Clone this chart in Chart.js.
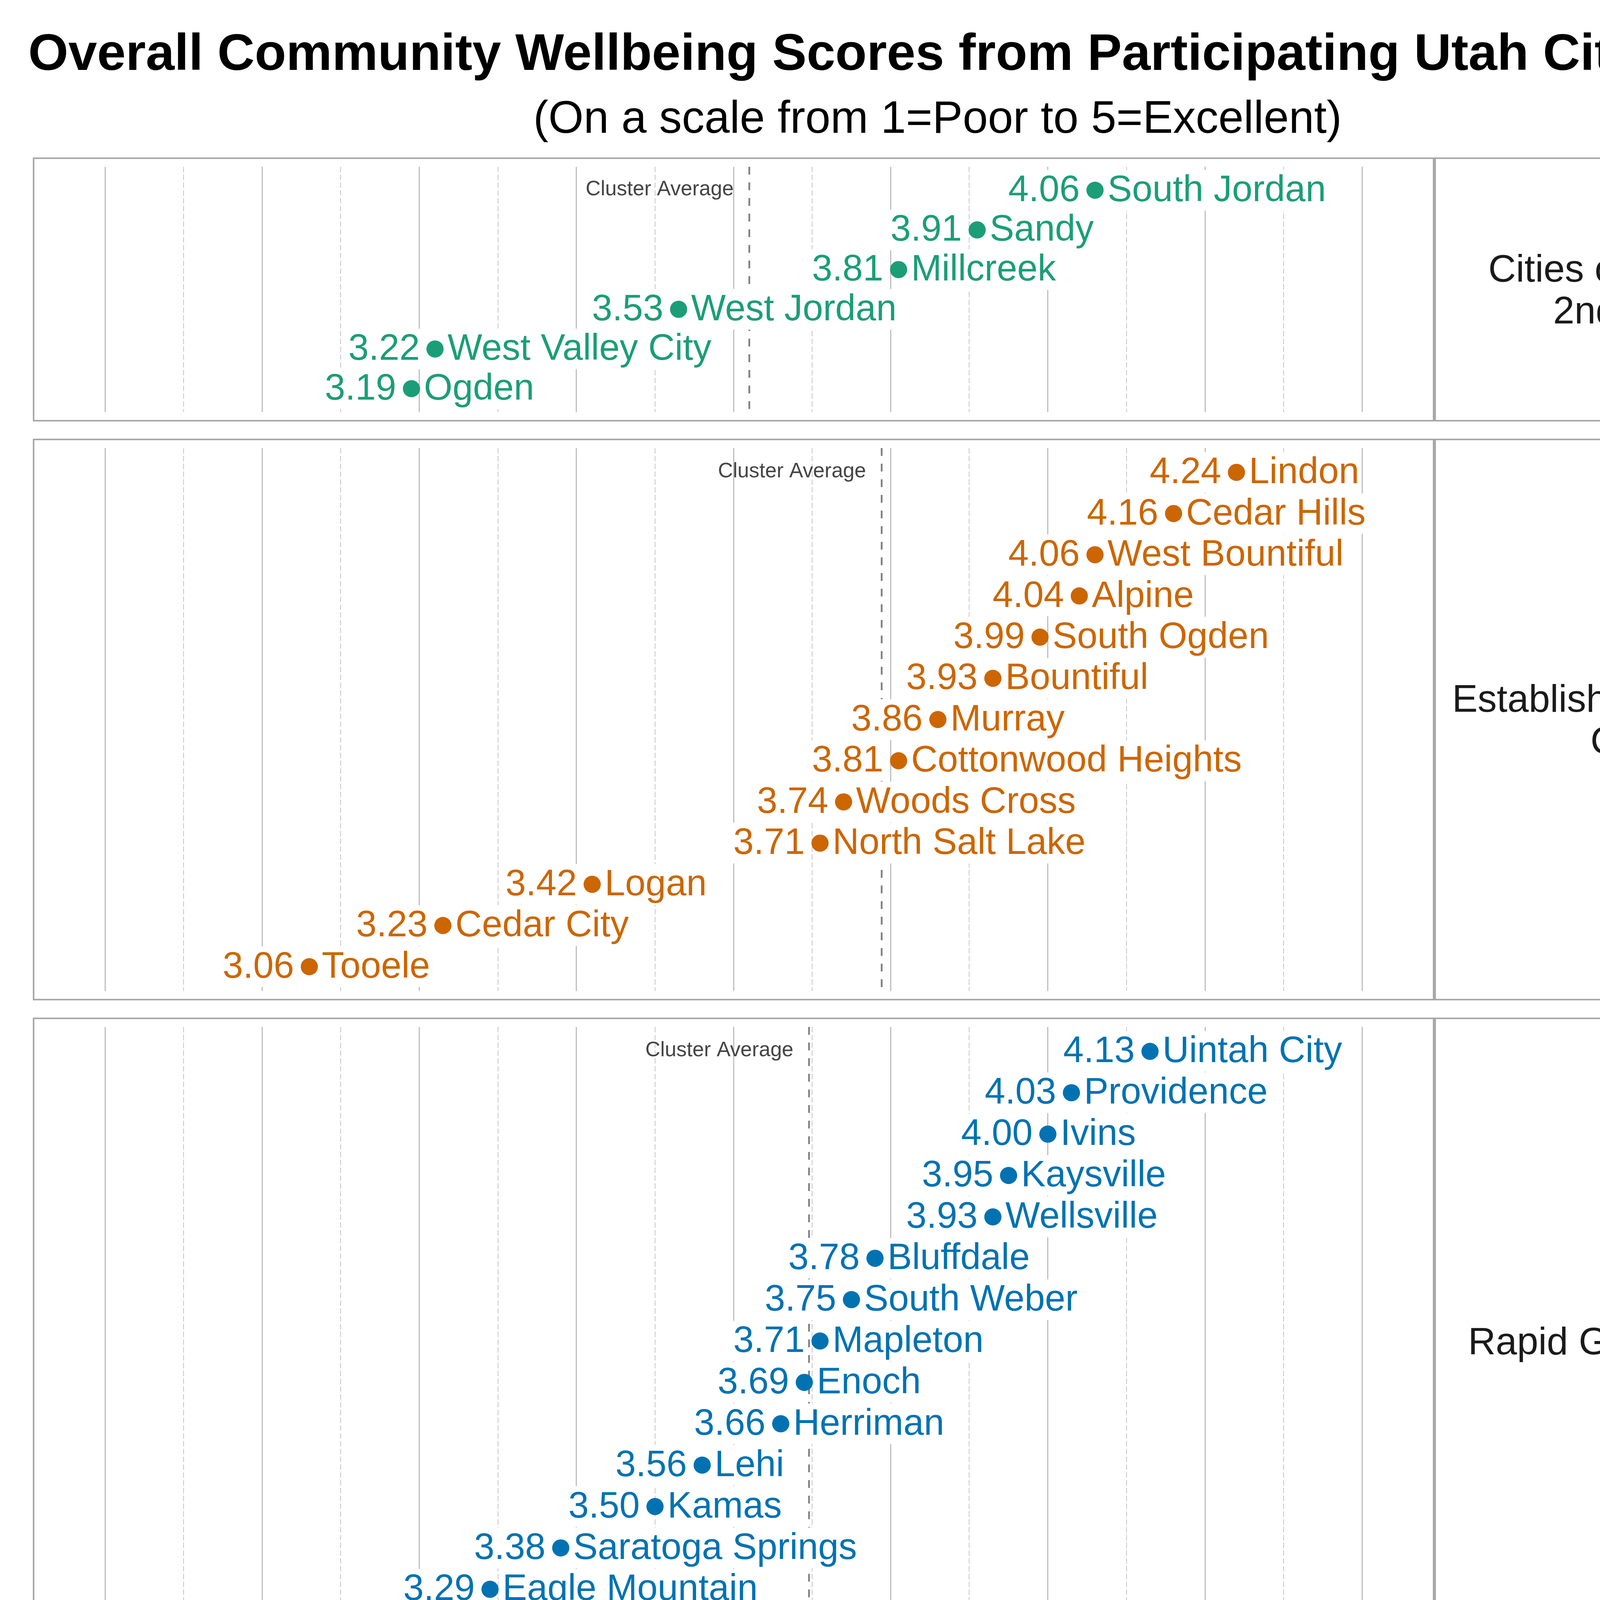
<!DOCTYPE html>
<html>
<head>
<meta charset="utf-8">
<script src="https://cdn.jsdelivr.net/npm/chart.js@4.4.1/dist/chart.umd.min.js"></script>
<style>
html, body { margin: 0; padding: 0; background: #fff; }
#page { position: relative; width: 4800px; height: 7200px; background: #fff; overflow: hidden;
        font-family: "Liberation Sans", Arial, sans-serif; color: #000; }
.heading { position: absolute; left: 0; width: 4800px; text-align: center; white-space: nowrap; }
canvas { position: absolute; }
.frame { position: absolute; box-sizing: border-box; border: 4px solid #a8a8a8; pointer-events: none; }
.facet { position: absolute; box-sizing: border-box; border: 4px solid #a8a8a8; display: flex;
         align-items: center; justify-content: center; text-align: center; font-size: 98px;
         line-height: 107px; color: #1a1a1a; white-space: pre; }
</style>
</head>
<body>
<div id="page">
  <div class="heading" style="top:68px;font-size:132px;line-height:132px;font-weight:bold;">Overall Community Wellbeing Scores from Participating Utah Cities (2026)</div>
  <div class="heading" style="top:242px;font-size:116px;line-height:116px;">(On a scale from 1=Poor to 5=Excellent)</div>
</div>
<script>
// Cluster dot plot: one small scatter chart per cluster, stacked, with a
// facet label box on the right and the x axis only on the bottom panel.

const FIRST_CLASS_CITIES = ['South Jordan', 'Sandy', 'Millcreek', 'West Jordan', 'West Valley City', 'Ogden'];
const FIRST_CLASS_SCORES = [4.06, 3.91, 3.81, 3.53, 3.22, 3.19];

const ESTABLISHED_CITIES = ['Lindon', 'Cedar Hills', 'West Bountiful', 'Alpine', 'South Ogden', 'Bountiful',
    'Murray', 'Cottonwood Heights', 'Woods Cross', 'North Salt Lake', 'Logan', 'Cedar City', 'Tooele'];
const ESTABLISHED_SCORES = [4.24, 4.16, 4.06, 4.04, 3.99, 3.93, 3.86, 3.81, 3.74, 3.71, 3.42, 3.23, 3.06];

const RAPID_CITIES = ['Uintah City', 'Providence', 'Ivins', 'Kaysville', 'Wellsville', 'Bluffdale', 'South Weber',
    'Mapleton', 'Enoch', 'Herriman', 'Lehi', 'Kamas', 'Saratoga Springs', 'Eagle Mountain', 'Grantsville'];
const RAPID_SCORES = [4.13, 4.03, 4.00, 3.95, 3.93, 3.78, 3.75, 3.71, 3.69, 3.66, 3.56, 3.50, 3.38, 3.29, 3.08];

const RURAL_HUB_CITIES = ['Midway', 'Alta', 'Morgan', 'Bluff', 'Springdale', 'Richfield', 'Heber', 'Nephi',
    'Manila', 'Blanding', 'Vernal', 'Moab', 'Tremonton', 'Wendover'];
const RURAL_HUB_SCORES = [4.24, 4.15, 3.89, 3.80, 3.71, 3.57, 3.51, 3.51, 3.51, 3.33, 3.21, 3.12, 2.94, 2.92];

const TRADITIONAL_CITIES = ['Mayfield', 'Lewiston', 'Toquerville', 'Ferron', 'Orangeville', 'Lake Point',
    'La Verkin', 'Delta', 'Stockton'];
const TRADITIONAL_SCORES = [4.08, 3.99, 3.83, 3.76, 3.72, 3.62, 3.57, 3.35, 3.30];

const CLUSTER_LABELS = ['Cities of the 1st &\n2nd Class', 'Established/Mid-sized\nCities', 'Rapid Growth Cities',
    'Rural Hub/Resort\nCommunities', 'Traditional Rural\nCommunities'];
const CLUSTER_CITIES = [FIRST_CLASS_CITIES, ESTABLISHED_CITIES, RAPID_CITIES, RURAL_HUB_CITIES, TRADITIONAL_CITIES];
const CLUSTER_SCORES = [FIRST_CLASS_SCORES, ESTABLISHED_SCORES, RAPID_SCORES, RURAL_HUB_SCORES, TRADITIONAL_SCORES];
const CLUSTER_COLORS = ['#1b9e77', '#cc6600', '#0072b2', '#b2182b', '#6a3d9a'];
const HIGHLIGHT_CITY = 'Springdale';

const X_MIN = 2.72, X_MAX = 4.48;
const X_TICKS = [2.8, 3.0, 3.2, 3.4, 3.6, 3.8, 4.0, 4.2, 4.4];
const X_MINOR = [2.9, 3.1, 3.3, 3.5, 3.7, 3.9, 4.1, 4.3];

// layout (px)
const FONT = '"Liberation Sans", Arial, sans-serif';
const PLOT_LEFT = 86, PLOT_RIGHT = 3670, FACET_RIGHT = 4714;
const FIRST_TOP = 405, ROW_H = 108.8, ROW_PAD = 0.59, PANEL_GAP = 48, AXIS_H = 230;

function panelPlugin(cities, scores, color) {
    const avg = scores.reduce((s, v) => s + v, 0) / scores.length;
    const hi = cities.indexOf(HIGHLIGHT_CITY);

    function highlightRect(chart) {
        const a = chart.chartArea, y = chart.scales.y;
        const y0 = y.getPixelForValue(hi - 0.54), y1 = y.getPixelForValue(hi + 0.54);
        return [a.left + 17, Math.min(y0, y1), a.right - 23 - (a.left + 17), Math.abs(y1 - y0)];
    }

    return {
        id: 'panel',
        beforeDraw(chart) {
            const { ctx, chartArea: a, scales: { x } } = chart;
            ctx.save();
            if (hi >= 0) {
                ctx.fillStyle = '#e6e6e6';
                ctx.fillRect(...highlightRect(chart));
            }
            // minor grid
            ctx.strokeStyle = '#c6c6c6';
            ctx.lineWidth = 2;
            ctx.setLineDash([14, 6]);
            X_MINOR.forEach(v => {
                const px = Math.round(x.getPixelForValue(v));
                ctx.beginPath();
                ctx.moveTo(px, a.top);
                ctx.lineTo(px, a.bottom);
                ctx.stroke();
            });
            ctx.restore();
        },
        beforeDatasetsDraw(chart) {
            const { ctx, chartArea: a, scales: { x, y } } = chart;
            ctx.save();
            if (hi >= 0) {
                ctx.strokeStyle = '#b2182b';
                ctx.lineWidth = 8;
                ctx.strokeRect(...highlightRect(chart));
            }
            // cluster average line
            const ax = x.getPixelForValue(avg);
            ctx.strokeStyle = '#808080';
            ctx.lineWidth = 4.5;
            ctx.setLineDash([20, 20]);
            ctx.beginPath();
            ctx.moveTo(ax, a.top);
            ctx.lineTo(ax, a.bottom);
            ctx.stroke();
            ctx.setLineDash([]);

            // white boxes behind the labels
            ctx.font = '94px ' + FONT;
            ctx.fillStyle = '#ffffff';
            scores.forEach((v, i) => {
                if (i === hi) return;
                const px = x.getPixelForValue(v), py = y.getPixelForValue(i);
                const wv = ctx.measureText(v.toFixed(2)).width;
                const wn = ctx.measureText(cities[i]).width;
                ctx.fillRect(px - 39 - wv - 2, py - 52, wv + 4, 104);
                ctx.fillRect(px + 32 - 2, py - 52, wn + 4, 104);
            });
            ctx.restore();
        },
        afterDatasetsDraw(chart) {
            const { ctx, scales: { x, y } } = chart;
            ctx.save();
            ctx.font = '94px ' + FONT;
            ctx.fillStyle = color;
            ctx.textBaseline = 'middle';
            scores.forEach((v, i) => {
                const px = x.getPixelForValue(v), py = y.getPixelForValue(i);
                ctx.textAlign = 'right';
                ctx.fillText(v.toFixed(2), px - 39, py + 2);
                ctx.textAlign = 'left';
                ctx.fillText(cities[i], px + 32, py + 2);
            });
            ctx.font = '53px ' + FONT;
            ctx.fillStyle = '#444444';
            ctx.textAlign = 'right';
            ctx.fillText('Cluster Average', x.getPixelForValue(avg) - 40, y.getPixelForValue(0) - 2);
            ctx.restore();
        }
    };
}

const page = document.getElementById('page');
let panelTop = FIRST_TOP;

CLUSTER_SCORES.forEach((scores, k) => {
    const cities = CLUSTER_CITIES[k];
    const color = CLUSTER_COLORS[k];
    const n = scores.length;
    const h = Math.round((n - 1 + 2 * ROW_PAD) * ROW_H);
    const last = k === CLUSTER_SCORES.length - 1;
    const w = PLOT_RIGHT - PLOT_LEFT;

    const canvas = document.createElement('canvas');
    canvas.width = w;
    canvas.height = h + (last ? AXIS_H : 0);
    canvas.style.left = PLOT_LEFT + 'px';
    canvas.style.top = panelTop + 'px';
    canvas.style.width = w + 'px';
    canvas.style.height = canvas.height + 'px';
    page.appendChild(canvas);

    new Chart(canvas, {
        type: 'scatter',
        data: {
            datasets: [{
                data: scores.map((v, i) => ({ x: v, y: i })),
                backgroundColor: color,
                borderWidth: 0,
                pointRadius: 22,
                pointHoverRadius: 22,
            }]
        },
        options: {
            responsive: false,
            maintainAspectRatio: false,
            devicePixelRatio: 1,
            animation: false,
            events: [],
            layout: { padding: 0 },
            plugins: { legend: { display: false }, tooltip: { enabled: false } },
            scales: {
                x: {
                    type: 'linear',
                    min: X_MIN,
                    max: X_MAX,
                    afterBuildTicks: s => { s.ticks = X_TICKS.map(v => ({ value: v })); },
                    afterFit: s => { s.height = last ? AXIS_H : 0; },
                    grid: { color: '#b3b3b3', lineWidth: 2.5, drawTicks: false },
                    border: { display: false },
                    ticks: {
                        display: last,
                        padding: 22,
                        color: '#000',
                        font: { family: FONT, size: 75 },
                        callback: v => Number(v).toFixed(1),
                    },
                    title: {
                        display: last,
                        text: 'Average Score',
                        color: '#000',
                        font: { family: FONT, size: 82 },
                        padding: { top: 0, bottom: 5 },
                    },
                },
                y: {
                    type: 'linear',
                    min: -ROW_PAD,
                    max: n - 1 + ROW_PAD,
                    reverse: true,
                    display: false,
                }
            }
        },
        plugins: [panelPlugin(cities, scores, color)]
    });

    const frame = document.createElement('div');
    frame.className = 'frame';
    frame.style.left = (PLOT_LEFT - 2) + 'px';
    frame.style.top = (panelTop - 2) + 'px';
    frame.style.width = (w + 4) + 'px';
    frame.style.height = (h + 4) + 'px';
    page.appendChild(frame);

    const facet = document.createElement('div');
    facet.className = 'facet';
    facet.style.left = (PLOT_RIGHT + 2) + 'px';
    facet.style.top = (panelTop - 2) + 'px';
    facet.style.width = (FACET_RIGHT - PLOT_RIGHT) + 'px';
    facet.style.height = (h + 4) + 'px';
    facet.textContent = CLUSTER_LABELS[k];
    page.appendChild(facet);

    panelTop += h + PANEL_GAP;
});
</script>
</body>
</html>
